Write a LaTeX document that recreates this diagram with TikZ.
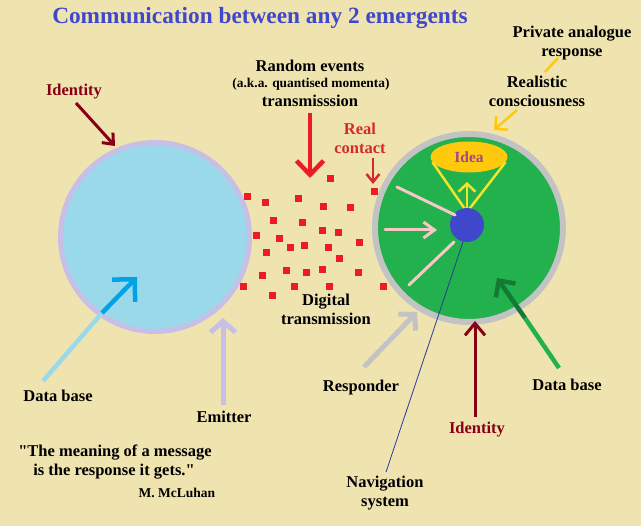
\documentclass[tikz,border=0pt]{standalone}
\usepackage{fontspec}
\setmainfont[Ligatures=TeXOff]{Liberation Serif}
\usetikzlibrary{arrows.meta,shapes.geometric}
\definecolor{bg}{HTML}{EFE4B0}
\definecolor{titleblue}{HTML}{3F48CC}
\definecolor{darkred}{HTML}{880015}
\definecolor{redc}{HTML}{ED1C24}
\definecolor{realred}{HTML}{D42A2A}
\definecolor{lightcyan}{HTML}{99D9EA}
\definecolor{cyanc}{HTML}{00A2E8}
\definecolor{lavender}{HTML}{C8BFE7}
\definecolor{grayc}{HTML}{C3C3C3}
\definecolor{greenc}{HTML}{22B14C}
\definecolor{darkgreen}{HTML}{137A35}
\definecolor{gold}{HTML}{FFC90E}
\definecolor{yellowc}{HTML}{F2E32C}
\definecolor{pinkc}{HTML}{F6C8C8}
\definecolor{ideatxt}{HTML}{A0488C}
\definecolor{navline}{HTML}{2A3A9A}
\tikzset{
  lbl/.style={font=\fontsize{16.5}{19}\selectfont\bfseries, align=center, inner sep=0pt, text=black},
  sq/.style={fill=redc, minimum size=7pt, inner sep=0pt},
  barb/.style args={#1/#2}{-{Straight Barb[length=#1pt,width=#2pt]}},
}
\begin{document}
\begin{tikzpicture}[x=1pt,y=-1pt]
\fill[bg] (0,0) rectangle (641,526);
\useasboundingbox (0,0) rectangle (641,526);

% title
\node[font=\fontsize{23.3}{26}\selectfont\bfseries, text=titleblue, inner sep=0pt] (title) at (260,18) {Communication between any 2 emergents};

% left circle
\node[circle, fill=lightcyan, draw=lavender, line width=5pt, minimum size=189pt, inner sep=0pt] (L) at (155,237) {};

% right circle
\node[circle, fill=greenc, draw=grayc, line width=6pt, minimum size=188pt, inner sep=0pt] (R) at (469,228) {};

% idea ellipse
\node[ellipse, fill=gold, minimum width=77pt, minimum height=31pt, inner sep=0pt, font=\fontsize{15.5}{17}\selectfont\bfseries, text=ideatxt] (idea) at (469,157) {Idea};
\coordinate (conetip) at (467,212);
\draw[yellowc, line width=2.5pt] (idea.188) -- (conetip) -- (idea.-8);
\coordinate (ideaarrow) at (467,182);
\draw[yellowc, line width=2.5pt, barb=8/17] (conetip) -- (ideaarrow);

% navigation line
\node[lbl] (nav) at (385,493) {Navigation\\system};
\coordinate (navtop) at (386,472);
\draw[navline, line width=0.8pt] (467,230) -- (navtop);

% blue dot
\node[circle, fill=titleblue, minimum size=34pt, inner sep=0pt] (dot) at (467,225) {};

% pink arrows
\coordinate (p1a) at (397,187); \coordinate (p1b) at (455,215);
\coordinate (p2a) at (385,230); \coordinate (p2b) at (437,230);
\coordinate (p3a) at (409,285); \coordinate (p3b) at (454,242);
\draw[pinkc, line width=3pt, line cap=round] (p1a) -- (p1b);
\draw[pinkc, line width=3pt, line cap=round, barb=11/16] (p2a) -- (p2b);
\draw[pinkc, line width=3pt, line cap=round] (p3a) -- (p3b);

% labels top
\node[lbl] (private) at (572,43) {Private analogue\\response};
\node[lbl] (realistic) at (537,91) {Realistic\\consciousness};
\coordinate (pr1) at (558,58); \coordinate (pr2) at (545,72);
\draw[gold, line width=2.5pt] (pr1) -- (pr2);
\coordinate (rc1) at (517,110); \coordinate (rc2) at (494,130);
\draw[gold, line width=2.5pt, barb=9/18] (rc1) -- (rc2);

% identity left
\node[lbl, text=darkred] (idL) at (74,92) {Identity};
\coordinate (idL1) at (76,103); \coordinate (idL2) at (115,146);
\draw[darkred, line width=3pt, barb=9/15] (idL1) -- (idL2);

% random events
\node[lbl] (rand) at (310,66) {Random events};
\node[font=\fontsize{13.4}{15}\selectfont\bfseries, inner sep=0pt] (aka) at (311,84) {(a.k.a. quantised momenta)};
\node[lbl] (trans) at (310,101) {transmisssion};
\coordinate (ra1) at (310,113); \coordinate (ra2) at (310,178);
\draw[redc, line width=4.5pt, barb=14/27] (ra1) -- (ra2);

% real contact
\node[lbl, text=realred] (real) at (360,138) {Real\\contact};
\coordinate (rc3) at (373,158); \coordinate (rc4) at (373,184);
\draw[realred, line width=2.5pt, barb=8/13] (rc3) -- (rc4);

% red squares
\foreach \p [count=\i] in {(330,179),(374,192),(247,197),(265,203),(298,199),(323,207),(350,208),(273,221),(302,223),(322,231),(338,233),(256,236),(279,239),(359,243),(290,248),(304,246),(328,248),(266,253),(339,259),(286,271),(306,273),(322,270),(358,273),(262,276),(243,287),(294,287),(329,287),(383,287),(272,296)}
  \node[sq] (sq\i) at \p {};

% digital transmission
\node[lbl] (digital) at (326,309) {Digital\\transmission};

% data base left
\node[lbl] (dbL) at (58,396) {Data base};
\coordinate (dbL1) at (43,381); \coordinate (dbL2) at (102,313); \coordinate (dbL3) at (137,277);
\draw[lightcyan, line width=4.5pt] (dbL1) -- (dbL2);
\draw[cyanc, line width=4.5pt, barb=16/32] (dbL2) -- (dbL3);

% emitter
\node[lbl] (emit) at (224,417) {Emitter};
\coordinate (em1) at (223,405); \coordinate (em2) at (223,318);
\draw[lavender, line width=5pt, barb=11/25] (em1) -- (em2);

% responder
\node[lbl] (resp) at (361,388) {Responder};
\coordinate (rs1) at (364,367); \coordinate (rs2) at (417,312);
\draw[grayc, line width=5pt, barb=11/24] (rs1) -- (rs2);

% identity right
\node[lbl, text=darkred] (idR) at (477,430) {Identity};
\coordinate (ir1) at (475,417); \coordinate (ir2) at (475,321);
\draw[darkred, line width=3pt, barb=12/20] (ir1) -- (ir2);

% data base right
\node[lbl] (dbR) at (567,385) {Data base};
\coordinate (gr1) at (559,368); \coordinate (gr2) at (525,318); \coordinate (gr3) at (497,278);
\draw[greenc, line width=4.5pt] (gr1) -- (gr2);
\draw[darkgreen, line width=4.5pt, barb=12/24] (gr2) -- (gr3);

% quote
\node[lbl] (q1) at (115,453) {"The meaning of a message};
\node[lbl] (q2) at (114,472) {is the response it gets."};
\node[font=\fontsize{13.5}{15}\selectfont\bfseries, inner sep=0pt] (mc) at (177,493) {M. McLuhan};
\end{tikzpicture}
\end{document}
